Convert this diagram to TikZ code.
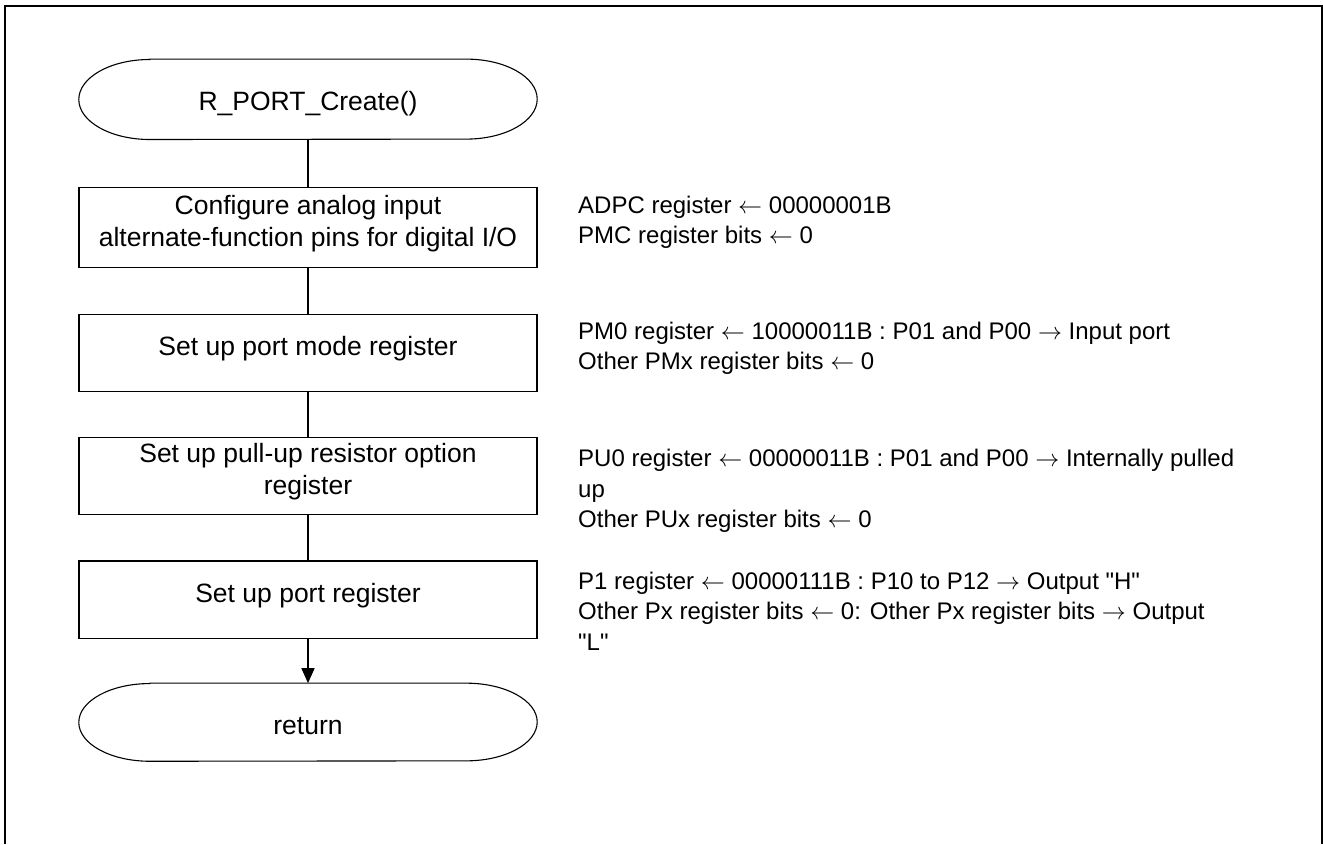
\documentclass[tikz,border=0pt]{standalone}
\usepackage{fix-cm}
\usepackage{fontspec}
\setmainfont{Liberation Sans}[Ligatures=TeXOff]
\usetikzlibrary{arrows.meta}
\newcommand\termoutline[2]{%
  \draw[termline] ([xshift=71pt]#1.north west) -- ([xshift=-71pt]#1.north east)
    arc[start angle=90,end angle=-90,x radius=71pt,y radius=#2]
    -- ([xshift=71pt]#1.south west)
    arc[start angle=270,end angle=90,x radius=71pt,y radius=#2] -- cycle;}
\newcommand\getsarrow{$\leftarrow$}
\newcommand\toarrow{$\rightarrow$}
\begin{document}
\begin{tikzpicture}[x=1pt,y=-1pt,
  frameline/.style={line width=2.2pt},
  procbox/.style={draw, line width=1.5pt, minimum width=458pt, inner sep=0pt},
  termbox/.style={minimum width=458pt, inner sep=0pt},
  termline/.style={line width=1.1pt},
  boxlbl/.style={align=center, inner sep=0pt, font=\fontsize{26.5}{32}\selectfont, yshift=4pt},
  termlbl/.style={inner sep=0pt, font=\fontsize{26.5}{32}\selectfont, yshift=-4.2pt},
  note/.style={anchor=north west, inner sep=0pt, align=left, font=\fontsize{24}{30.5}\selectfont},
  conn/.style={line width=1.5pt},
  flowarrow/.style={conn, -{Triangle[length=15pt,width=13pt]}}]
\useasboundingbox (0,0) rectangle (1323,844);
\draw[frameline] (5,844) -- (5,6) -- (1322,6) -- (1322,844);

\node[termbox, minimum height=80pt, label={[termlbl]center:R\_PORT\_Create()}] (start) at (308,99.3) {};
\termoutline{start}{40pt}

\node[procbox, minimum height=79.6pt, label={[boxlbl]center:{Configure analog input\\alternate-function pins for digital I/O}}] (b1) at (308,227.5) {};
\node[procbox, minimum height=76.6pt, label={[boxlbl]center:Set up port mode register}] (b2) at (308,353) {};
\node[procbox, minimum height=77pt, label={[boxlbl]center:{Set up pull-up resistor option\\register}}] (b3) at (308,475.8) {};
\node[procbox, minimum height=77.3pt, label={[boxlbl]center:Set up port register}] (b4) at (308,599.7) {};

\node[termbox, minimum height=77.7pt, label={[termlbl]center:return}] (ret) at (308,722.2) {};
\termoutline{ret}{38.85pt}

\draw[conn] (start) -- (b1);
\draw[conn] (b1) -- (b2);
\draw[conn] (b2) -- (b3);
\draw[conn] (b3) -- (b4);
\draw[flowarrow] (b4) -- (ret);

\node[note] (n1) at (578,195.5) {ADPC register \getsarrow{} 00000001B\\PMC register bits \getsarrow{} 0};
\node[note] (n2) at (578,321.5) {PM0 register \getsarrow{} 10000011B : P01 and P00 \toarrow{} Input port\\Other PMx register bits \getsarrow{} 0};
\node[note] (n3) at (578,449) {PU0 register \getsarrow{} 00000011B : P01 and P00 \toarrow{} Internally pulled\\up\\Other PUx register bits \getsarrow{} 0};
\node[note] (n4) at (578,571.5) {P1 register \getsarrow{} 00000111B : P10 to P12 \toarrow{} Output "H"\\Other Px register bits \getsarrow{} 0: Other Px register bits \toarrow{} Output\\"L"};
\end{tikzpicture}
\end{document}
